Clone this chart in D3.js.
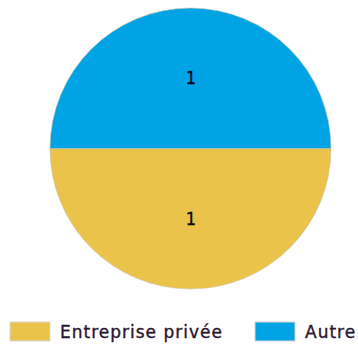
<!DOCTYPE html>
<html>
<head>
<meta charset="utf-8">
<script src="https://cdn.jsdelivr.net/npm/d3@7"></script>
<style>
  html, body { margin: 0; padding: 0; background: #ffffff; }
  svg { display: block; }
</style>
</head>
<body>
<svg id="chart" width="358" height="347"></svg>
<script>
const categories = ["Entreprise privée", "Autre"];
const values = [1, 1];
const colors = ["#ebc34a", "#00a3e3"];

const svg = d3.select("#chart");
const cx = 190.5, cy = 148.5, r = 140.5;

const pie = d3.pie().sort(null).value(d => d.value)
  .startAngle(Math.PI / 2).endAngle(Math.PI / 2 + 2 * Math.PI);
const data = categories.map((c, i) => ({ name: c, value: values[i], color: colors[i] }));
const arcs = pie(data);
const arc = d3.arc().innerRadius(0).outerRadius(r);
const labelArc = d3.arc().innerRadius(r / 2).outerRadius(r / 2);

const g = svg.append("g").attr("transform", `translate(${cx},${cy})`);
g.selectAll("path").data(arcs).join("path")
  .attr("d", arc)
  .attr("fill", d => d.data.color)
  .attr("stroke", "#c8c2a8")
  .attr("stroke-width", 0.6);

g.selectAll("text").data(arcs).join("text")
  .attr("transform", d => `translate(${labelArc.centroid(d)})`)
  .attr("text-anchor", "middle")
  .attr("dy", "0.36em")
  .attr("font-family", "'DejaVu Sans Mono', monospace")
  .attr("font-size", 17)
  .attr("fill", "#0a0a1a")
  .attr("stroke", "#0a0a1a")
  .attr("stroke-width", 0.3)
  .text(d => d.data.value);

// Legend
const legendX = [10, 255];
const lg = svg.append("g");
data.forEach((d, i) => {
  lg.append("rect")
    .attr("x", legendX[i]).attr("y", 322)
    .attr("width", 40).attr("height", 19)
    .attr("fill", d.color)
    .attr("stroke", "#d8d8d8").attr("stroke-width", 1);
  lg.append("text")
    .attr("x", legendX[i] + 50).attr("y", 338)
    .attr("font-family", "'DejaVu Sans', sans-serif")
    .attr("font-size", 17)
    .attr("letter-spacing", 1)
    .attr("fill", "#2a1430")
    .attr("stroke", "#2a1430")
    .attr("stroke-width", 0.35)
    .text(d.name);
});
</script>
</body>
</html>
